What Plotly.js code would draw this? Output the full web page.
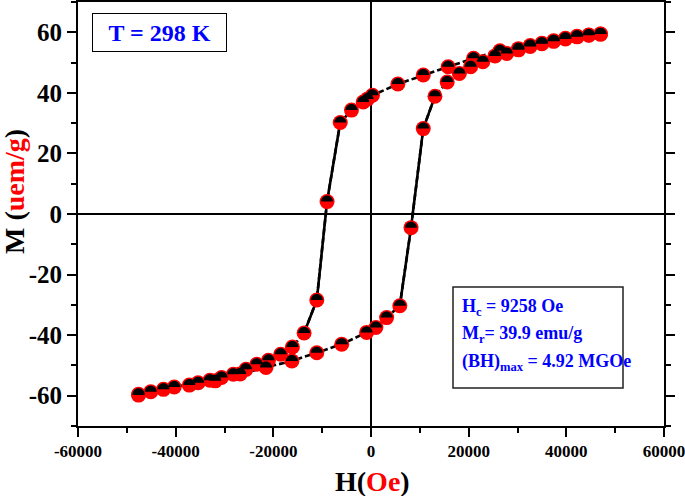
<!DOCTYPE html>
<html>
<head>
<meta charset="utf-8">
<script src="https://cdn.plot.ly/plotly-3.0.1.min.js"></script>
<style>
html,body{margin:0;padding:0;background:#fff;}
#chart{width:685px;height:496px;}
</style>
</head>
<body>
<div id="chart"></div>
<script>
// Descending branch (field swept from +H to -H)
const H_down = [47000, 44600, 42200, 39800, 37400, 35000, 32600, 30200, 26400, 21000, 15800, 10700, 5500, 300, -700, -1600, -4000, -6300, -9000, -11100, -13700, -16100, -18500, -21000, -23400, -25600, -28200, -30600, -33000, -35400, -40300, -45100, -47600];
const M_down = [59.4, 59.1, 58.7, 58.0, 57.2, 56.4, 55.6, 54.6, 53.9, 51.4, 48.6, 45.9, 42.9, 39.2, 38.0, 37.0, 34.3, 30.2, 4.1, -28.4, -39.3, -43.9, -46.3, -48.3, -49.6, -51.3, -52.9, -54.0, -54.9, -55.7, -57.1, -58.7, -59.5];
// Ascending branch (field swept from -H to +H)
const H_up = [-47600, -42500, -37200, -31900, -26800, -21500, -16200, -11100, -6000, -900, 1000, 3200, 5900, 8200, 10700, 13100, 15600, 18100, 20400, 22900, 25400, 27800, 30200, 32600, 35000, 37400, 39800, 42200, 44600, 47000];
const M_up = [-59.8, -57.9, -56.5, -55.1, -52.8, -50.7, -48.5, -45.8, -43.0, -39.1, -37.5, -34.2, -30.3, -4.5, 28.2, 38.9, 43.6, 46.4, 48.6, 50.3, 52.2, 53.0, 54.2, 55.3, 56.2, 57.0, 57.8, 58.5, 59.0, 59.4];

const xTickVals = [-60000, -40000, -20000, 0, 20000, 40000, 60000];
const xTickText = ['-60000', '-40000', '-20000', '0', '20000', '40000', '60000'];
const yTickVals = [-60, -40, -20, 0, 20, 40, 60];
const yTickText = ['-60', '-40', '-20', '0', '20', '40', '60'];

const FONT = 'Liberation Serif, Times New Roman, serif';

function steepSegments(H, M) {
  const xs = [], ys = [];
  for (let i = 0; i < H.length - 1; i++) {
    if (Math.abs(M[i + 1] - M[i]) > 8) {
      xs.push(H[i], H[i + 1], null);
      ys.push(M[i], M[i + 1], null);
    }
  }
  return {xs, ys};
}

const traces = [];
[[H_down, M_down], [H_up, M_up]].forEach(([H, M]) => {
  traces.push({x: H, y: M, type: 'scatter', mode: 'lines',
    line: {color: '#000', width: 2.6, dash: '6px,3px'}, hoverinfo: 'skip'});
  const s = steepSegments(H, M);
  traces.push({x: s.xs, y: s.ys, type: 'scatter', mode: 'lines', connectgaps: false,
    line: {color: '#000', width: 2.6}, hoverinfo: 'skip'});
});
[[H_down, M_down], [H_up, M_up]].forEach(([H, M]) => {
  traces.push({x: H, y: M, type: 'scatter', mode: 'markers',
    marker: {color: '#ff0000', size: 15, line: {width: 0}}, hoverinfo: 'skip'});
});

// black upper half of each marker
const r = 6, k = 3.31;
const domePath = `M ${-r} 0 C ${-r} ${k} ${-k} ${r} 0 ${r} C ${k} ${r} ${r} ${k} ${r} 0 Z`;

// plot area in pixels: x 78..664, y 2..426
const L = 78, R = 664, T = 2, B = 426;
const px = v => (v - L) / (R - L);
const py = v => (B - v) / (B - T);

const shapes = [];
[[H_down, M_down], [H_up, M_up]].forEach(([H, M]) => {
  H.forEach((h, i) => {
    shapes.push({type: 'path', xref: 'x', yref: 'y', xsizemode: 'pixel', ysizemode: 'pixel',
      xanchor: h, yanchor: M[i], path: domePath, fillcolor: '#000', line: {width: 0}, layer: 'above'});
  });
});
// frame of the parameters box
shapes.push({type: 'rect', xref: 'paper', yref: 'paper', x0: px(453), x1: px(623), y0: py(388), y1: py(287),
  line: {color: '#222', width: 1.5}, fillcolor: 'rgba(0,0,0,0)', layer: 'above'});

const blue = '#0000ff';
const annotations = [
  {xref: 'paper', yref: 'paper', x: px(159.5), y: py(32.5), xanchor: 'center', yanchor: 'middle',
   text: '<b>T = 298 K</b>', showarrow: false, font: {family: FONT, size: 24, color: blue},
   width: 133, height: 37, borderpad: 0, bordercolor: '#000', borderwidth: 1, bgcolor: '#fff'},
  {xref: 'paper', yref: 'paper', x: px(460), y: py(307), xanchor: 'left', yanchor: 'middle',
   text: '<b>H<sub>c</sub> = 9258 Oe</b>', showarrow: false, font: {family: FONT, size: 18, color: blue}},
  {xref: 'paper', yref: 'paper', x: px(460), y: py(334), xanchor: 'left', yanchor: 'middle',
   text: '<b>M<sub>r</sub>= 39.9 emu/g</b>', showarrow: false, font: {family: FONT, size: 18, color: blue}},
  {xref: 'paper', yref: 'paper', x: px(460), y: py(362), xanchor: 'left', yanchor: 'middle',
   text: '<b>(BH)<sub>max</sub> = 4.92 MGOe</b>', showarrow: false, font: {family: FONT, size: 18, color: blue}},
  {xref: 'paper', yref: 'paper', x: px(372), y: py(481), xanchor: 'center', yanchor: 'middle',
   text: '<b>H(<span style="color:#ff0000">Oe</span>)</b>', showarrow: false, font: {family: FONT, size: 28, color: '#000'}},
  {xref: 'paper', yref: 'paper', x: px(15), y: py(192), xanchor: 'center', yanchor: 'middle', textangle: -90,
   text: '<b>M (<span style="color:#ff0000">uem/g</span>)</b>', showarrow: false, font: {family: FONT, size: 28, color: '#000'}}
];

const axisCommon = {
  showline: true, linecolor: '#000', linewidth: 2, mirror: 'allticks',
  ticks: 'outside', ticklen: 9, tickwidth: 2, tickcolor: '#000',
  showgrid: false, zeroline: true, zerolinecolor: '#000', zerolinewidth: 2,
  tickmode: 'array', ticklabeloverflow: 'allow'
};

const layout = {
  width: 685, height: 496,
  margin: {l: L, r: 685 - R, t: T, b: 496 - B},
  paper_bgcolor: '#fff', plot_bgcolor: '#fff',
  showlegend: false,
  xaxis: Object.assign({}, axisCommon, {
    range: [-60000, 60000], tickvals: xTickVals, ticktext: xTickText,
    tickfont: {family: FONT, size: 17, color: '#000', weight: 'bold'},
    minor: {tickvals: [-50000, -30000, -10000, 10000, 30000, 50000], ticks: 'outside', ticklen: 5, tickwidth: 2, tickcolor: '#000', showgrid: false}
  }),
  yaxis: Object.assign({}, axisCommon, {
    range: [-70, 70], tickvals: yTickVals, ticktext: yTickText,
    tickfont: {family: FONT, size: 25, color: '#000', weight: 'bold'},
    minor: {tickvals: [-70, -50, -30, -10, 10, 30, 50, 70], ticks: 'outside', ticklen: 5, tickwidth: 2, tickcolor: '#000', showgrid: false}
  }),
  shapes: shapes,
  annotations: annotations
};

Plotly.newPlot('chart', traces, layout, {staticPlot: true, displayModeBar: false});
</script>
</body>
</html>
